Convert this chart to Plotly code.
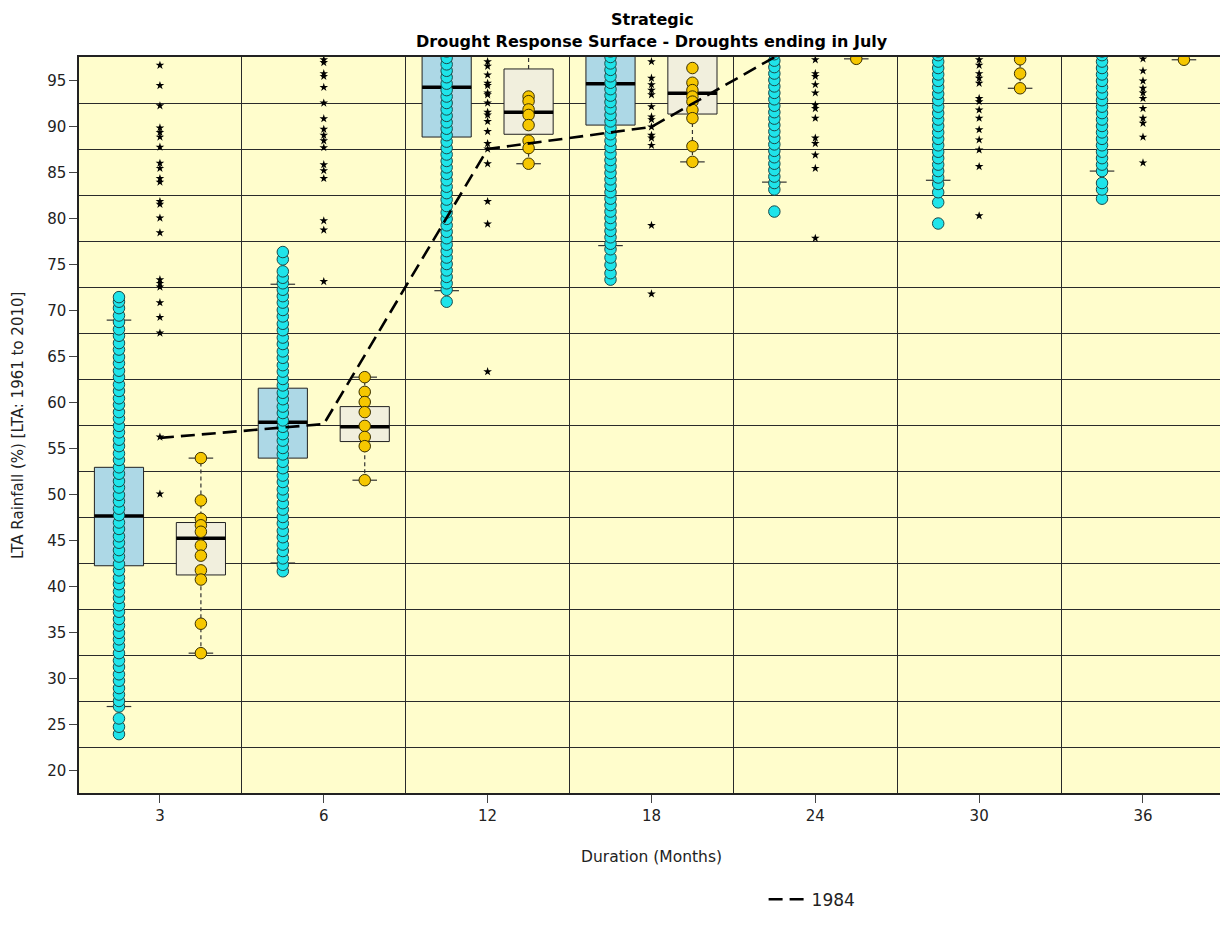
import plotly.graph_objects as go

# ---------------- data ----------------
durations = ["3", "6", "12", "18", "24", "30", "36"]

# simulated (blue) box statistics
blue_lower = [27.0, 42.6, 72.2, 77.1, 84.0, 84.2, 85.2]
blue_q1 = [42.3, 54.0, 88.9, 90.2, 99.0, 99.5, 100.0]
blue_median = [47.7, 57.9, 94.3, 94.7, 102.0, 103.0, 104.0]
blue_q3 = [53.0, 61.6, 99.5, 99.8, 105.0, 106.0, 107.0]
blue_upper = [69.0, 72.9, 112.0, 112.0, 115.0, 116.0, 117.0]

# observed (yellow) box statistics
obs_lower = [32.8, 51.6, 86.0, 86.2, 97.4, 94.2, 97.3]
obs_q1 = [41.3, 55.8, 89.2, 91.4, 99.0, 98.5, 99.0]
obs_median = [45.3, 57.4, 91.6, 93.65, 101.0, 100.0, 101.0]
obs_q3 = [47.0, 59.6, 96.3, 98.5, 103.0, 102.0, 103.0]
obs_upper = [54.0, 62.8, 100.0, 102.0, 106.0, 105.0, 106.0]

# simulated drought points (cyan)
sim_points = [
    [24.0, 24.8, 25.7, 27.0, 27.6, 28.3, 29.0, 29.8, 30.5, 31.3, 32.0, 32.8, 33.6, 34.3,
     35.0, 35.8, 36.5, 37.3, 38.0, 38.8, 39.5, 40.3, 41.0, 41.8, 42.5, 43.3, 44.0, 44.8,
     45.5, 46.3, 47.0, 47.8, 48.5, 49.3, 50.0, 50.8, 51.5, 52.3, 53.0, 53.8, 54.5, 55.3,
     56.0, 56.8, 57.5, 58.3, 59.0, 59.8, 60.5, 61.3, 62.0, 62.8, 63.5, 64.3, 65.0, 65.8,
     66.5, 67.3, 68.0, 68.8, 69.5, 70.3, 71.0, 71.5],
    [41.7, 42.4, 43.1, 43.9, 44.6, 45.4, 46.1, 46.9, 47.6, 48.4, 49.1, 49.9, 50.6, 51.4,
     52.1, 52.9, 53.6, 54.4, 55.1, 55.9, 56.6, 57.4, 58.1, 58.9, 59.6, 60.4, 61.1, 61.9,
     62.6, 63.4, 64.1, 64.9, 65.6, 66.4, 67.1, 67.9, 68.6, 69.4, 70.1, 70.9, 71.6, 72.3,
     73.0, 73.6, 74.3, 75.6, 76.4],
    [71.0, 72.3, 73.0, 73.7, 74.4, 75.1, 75.8, 76.5, 77.2, 77.9, 78.6, 79.3, 80.0, 80.7,
     81.4, 82.1, 82.8, 83.5, 84.2, 84.9, 85.6, 86.3, 87.0, 87.7, 88.4, 89.1, 89.8, 90.5,
     91.2, 91.9, 92.6, 93.3, 94.0, 94.7, 95.4, 96.1, 96.8, 97.5, 98.2],
    [73.4, 74.1, 75.0, 75.8, 76.7, 77.3, 78.0, 78.7, 79.4, 80.1, 80.8, 81.5, 82.2, 82.9,
     83.6, 84.3, 85.0, 85.7, 86.4, 87.1, 87.8, 88.5, 89.2, 89.9, 90.6, 91.3, 92.0, 92.7,
     93.4, 94.1, 94.8, 95.5, 96.2, 96.9, 97.6, 98.2],
    [80.8, 83.2, 83.9, 84.6, 85.3, 86.0, 86.7, 87.4, 88.1, 88.8, 89.5, 90.2, 90.9, 91.6,
     92.3, 93.0, 93.7, 94.4, 95.1, 95.8, 96.5, 97.2, 97.9, 98.2],
    [79.5, 81.8, 82.9, 83.8, 84.5, 85.2, 85.9, 86.6, 87.3, 88.0, 88.7, 89.4, 90.1, 90.8,
     91.5, 92.2, 92.9, 93.6, 94.3, 95.0, 95.7, 96.4, 97.1, 97.8, 98.2],
    [82.2, 83.2, 83.9, 85.2, 85.9, 86.6, 87.3, 88.0, 88.7, 89.4, 90.1, 90.8, 91.5, 92.2,
     92.9, 93.6, 94.3, 95.0, 95.7, 96.4, 97.1, 97.8, 98.2],
]

# historic droughts (stars)
star_points = [
    [96.7, 94.5, 92.3, 89.9, 89.4, 88.9, 87.8, 86.05, 85.5, 84.4, 84.0, 81.9, 81.6, 80.1,
     78.5, 73.4, 73.0, 72.6, 70.9, 69.3, 67.6, 56.3, 50.1],
    [97.3, 97.0, 95.8, 95.5, 94.3, 92.6, 90.9, 89.75, 89.1, 88.5, 87.75, 85.9, 85.25, 84.4,
     79.8, 78.8, 73.2],
    [97.1, 96.6, 95.65, 94.75, 94.5, 93.7, 93.5, 92.6, 91.6, 91.3, 90.6, 89.5, 88.2, 87.6,
     86.0, 81.9, 79.45, 63.4],
    [97.1, 95.3, 94.6, 94.0, 93.5, 92.2, 91.1, 90.8, 90.0, 89.1, 88.8, 88.0, 79.3, 71.85],
    [97.3, 95.8, 95.5, 94.6, 93.7, 92.4, 92.0, 90.95, 88.8, 88.2, 86.95, 85.5, 77.9],
    [97.3, 96.7, 95.8, 95.3, 94.75, 93.1, 92.75, 91.85, 90.95, 89.7, 88.6, 87.5, 85.7, 80.35],
    [97.4, 96.1, 95.0, 94.2, 93.7, 93.1, 92.0, 90.95, 90.4, 88.9, 86.1],
]

# observed droughts (yellow points)
obs_points = [
    [54.0, 49.4, 47.4, 46.7, 46.0, 44.5, 43.4, 41.8, 40.8, 36.0, 32.8],
    [62.8, 61.2, 60.1, 59.0, 57.5, 56.3, 55.3, 51.6],
    [93.3, 92.8, 91.9, 91.3, 90.2, 88.5, 87.7, 86.0],
    [96.4, 94.8, 94.0, 93.3, 92.75, 91.85, 90.95, 87.9, 86.2],
    [97.4],
    [97.35, 95.8, 94.2],
    [97.3],
]

# 1984 drought
year_label = "1984"
drought_1984 = [56.2, 57.7, 87.6, 90.0, 100.1, 101.0, 101.0]

y_ticks = [20, 25, 30, 35, 40, 45, 50, 55, 60, 65, 70, 75, 80, 85, 90, 95]
y_grid = [22.5, 27.5, 32.5, 37.5, 42.5, 47.5, 52.5, 57.5, 62.5, 67.5, 72.5, 77.5, 82.5, 87.5, 92.5]

title_lines = ["Strategic", "Drought Response Surface - Droughts ending in July"]
y_title = "LTA Rainfall (%) [LTA: 1961 to 2010]"
x_title = "Duration (Months)"

# ---------------- styling ----------------
FONT = "DejaVu Sans"
BLUE_FILL = "#ADD8E6"
OBS_FILL = "#F1EFDD"
CYAN = "#1FE4EA"
GOLD = "#F6C700"
PT_EDGE = "#1C4A4A"
OFF = 0.25       # offset of the boxes from the category centre
BW = 0.30        # box width
CAP = 0.075      # half width of whisker caps

idx = list(range(len(durations)))
xb = [i - OFF for i in idx]
xo = [i + OFF for i in idx]

fig = go.Figure()


def add_box(xs, q1, med, q3, fill):
    fig.add_trace(go.Box(
        x=xs, q1=q1, median=med, q3=q3, lowerfence=q1, upperfence=q3,
        width=BW, whiskerwidth=0, fillcolor=fill,
        line=dict(color="#222222", width=1), boxpoints=False,
        showlegend=False, hoverinfo="skip"))


def segs_h(xs, ys, half):
    sx, sy = [], []
    for x, y in zip(xs, ys):
        sx += [x - half, x + half, None]
        sy += [y, y, None]
    return sx, sy


def segs_v(xs, y0, y1):
    sx, sy = [], []
    for x, a, b in zip(xs, y0, y1):
        sx += [x, x, None]
        sy += [a, b, None]
    return sx, sy


add_box(xb, blue_q1, blue_median, blue_q3, BLUE_FILL)
add_box(xo, obs_q1, obs_median, obs_q3, OBS_FILL)

# thick median lines
for xs, med in ((xb, blue_median), (xo, obs_median)):
    sx, sy = segs_h(xs, med, BW / 2)
    fig.add_trace(go.Scatter(x=sx, y=sy, mode="lines",
                             line=dict(color="black", width=3.5),
                             showlegend=False, hoverinfo="skip"))

# dashed whiskers and caps
for xs, lo, q1, q3, up in ((xb, blue_lower, blue_q1, blue_q3, blue_upper),
                           (xo, obs_lower, obs_q1, obs_q3, obs_upper)):
    ax, ay = segs_v(xs, lo, q1)
    bx, by = segs_v(xs, q3, up)
    fig.add_trace(go.Scatter(x=ax + bx, y=ay + by, mode="lines",
                             line=dict(color="#333333", width=1.2, dash="4px,3px"),
                             showlegend=False, hoverinfo="skip"))
    cx1, cy1 = segs_h(xs, lo, CAP)
    cx2, cy2 = segs_h(xs, up, CAP)
    fig.add_trace(go.Scatter(x=cx1 + cx2, y=cy1 + cy2, mode="lines",
                             line=dict(color="#333333", width=1.2),
                             showlegend=False, hoverinfo="skip"))

# simulated points
px, py = [], []
for i, vals in enumerate(sim_points):
    px += [xb[i]] * len(vals)
    py += vals
fig.add_trace(go.Scatter(x=px, y=py, mode="markers",
                         marker=dict(symbol="circle", size=11.5, color=CYAN,
                                     line=dict(color=PT_EDGE, width=1)),
                         showlegend=False, hoverinfo="y"))

# observed points
px, py = [], []
for i, vals in enumerate(obs_points):
    px += [xo[i]] * len(vals)
    py += vals
fig.add_trace(go.Scatter(x=px, y=py, mode="markers",
                         marker=dict(symbol="circle", size=11.5, color=GOLD,
                                     line=dict(color="#3A3000", width=1)),
                         showlegend=False, hoverinfo="y"))

# historic stars
px, py = [], []
for i, vals in enumerate(star_points):
    px += [idx[i]] * len(vals)
    py += vals
fig.add_trace(go.Scatter(x=px, y=py, mode="markers",
                         marker=dict(symbol="star", size=6.5, color="black"),
                         showlegend=False, hoverinfo="y"))

# 1984 line
fig.add_trace(go.Scatter(x=idx, y=drought_1984, mode="lines", name=year_label,
                         line=dict(color="black", width=2.6, dash="14px,7px"),
                         showlegend=True))

fig.update_layout(
    width=1220, height=937,
    margin=dict(l=79, r=0, t=57, b=144, autoexpand=False),
    paper_bgcolor="white", plot_bgcolor="#FFFDCC",
    font=dict(family=FONT, size=15, color="#222222"),
    showlegend=True,
    legend=dict(orientation="h", x=0.6, xanchor="left", y=-0.145, yanchor="middle",
                font=dict(family=FONT, size=17, color="#222222"),
                itemwidth=38, bgcolor="rgba(0,0,0,0)"),
    boxmode="overlay",
    annotations=[
        dict(text="<b>%s</b>" % title_lines[0], xref="paper", yref="paper",
             x=0.5026, y=1.0516, xanchor="center", yanchor="middle", showarrow=False,
             font=dict(family=FONT, size=16, color="black")),
        dict(text="<b>%s</b>" % title_lines[1], xref="paper", yref="paper",
             x=0.5026, y=1.0217, xanchor="center", yanchor="middle", showarrow=False,
             font=dict(family=FONT, size=16, color="black")),
        dict(text=y_title, textangle=-90,
             xref="paper", yref="paper", x=-0.0535, y=0.5,
             xanchor="center", yanchor="middle", showarrow=False,
             font=dict(family=FONT, size=15, color="#222222")),
        dict(text=x_title, xref="paper", yref="paper",
             x=0.502, y=-0.087, xanchor="center", yanchor="middle", showarrow=False,
             font=dict(family=FONT, size=15.5, color="#222222")),
    ],
)

fig.update_xaxes(
    range=[-0.494, 6.47], tickmode="array", tickvals=idx, ticktext=durations,
    ticks="outside", ticklen=8, tickcolor="#444444", showgrid=False, zeroline=False,
    showline=True, linecolor="#222222", linewidth=1.5, mirror=True,
    minor=dict(tickvals=[0.5, 1.5, 2.5, 3.5, 4.5, 5.5], showgrid=True,
               gridcolor="#2A2A2A", gridwidth=1.2, ticks=""),
)
fig.update_yaxes(
    range=[17.6, 97.6], tickmode="array", tickvals=y_ticks,
    ticks="outside", ticklen=8, tickcolor="#444444", showgrid=False, zeroline=False,
    showline=True, linecolor="#222222", linewidth=1.5,
    minor=dict(tickvals=y_grid, showgrid=True, gridcolor="#2A2A2A", gridwidth=1.2, ticks=""),
)

fig.write_html(
    "out.html",
    config={"displayModeBar": False},
    post_script="document.body.style.margin='0';document.body.style.overflow='hidden';",
)
